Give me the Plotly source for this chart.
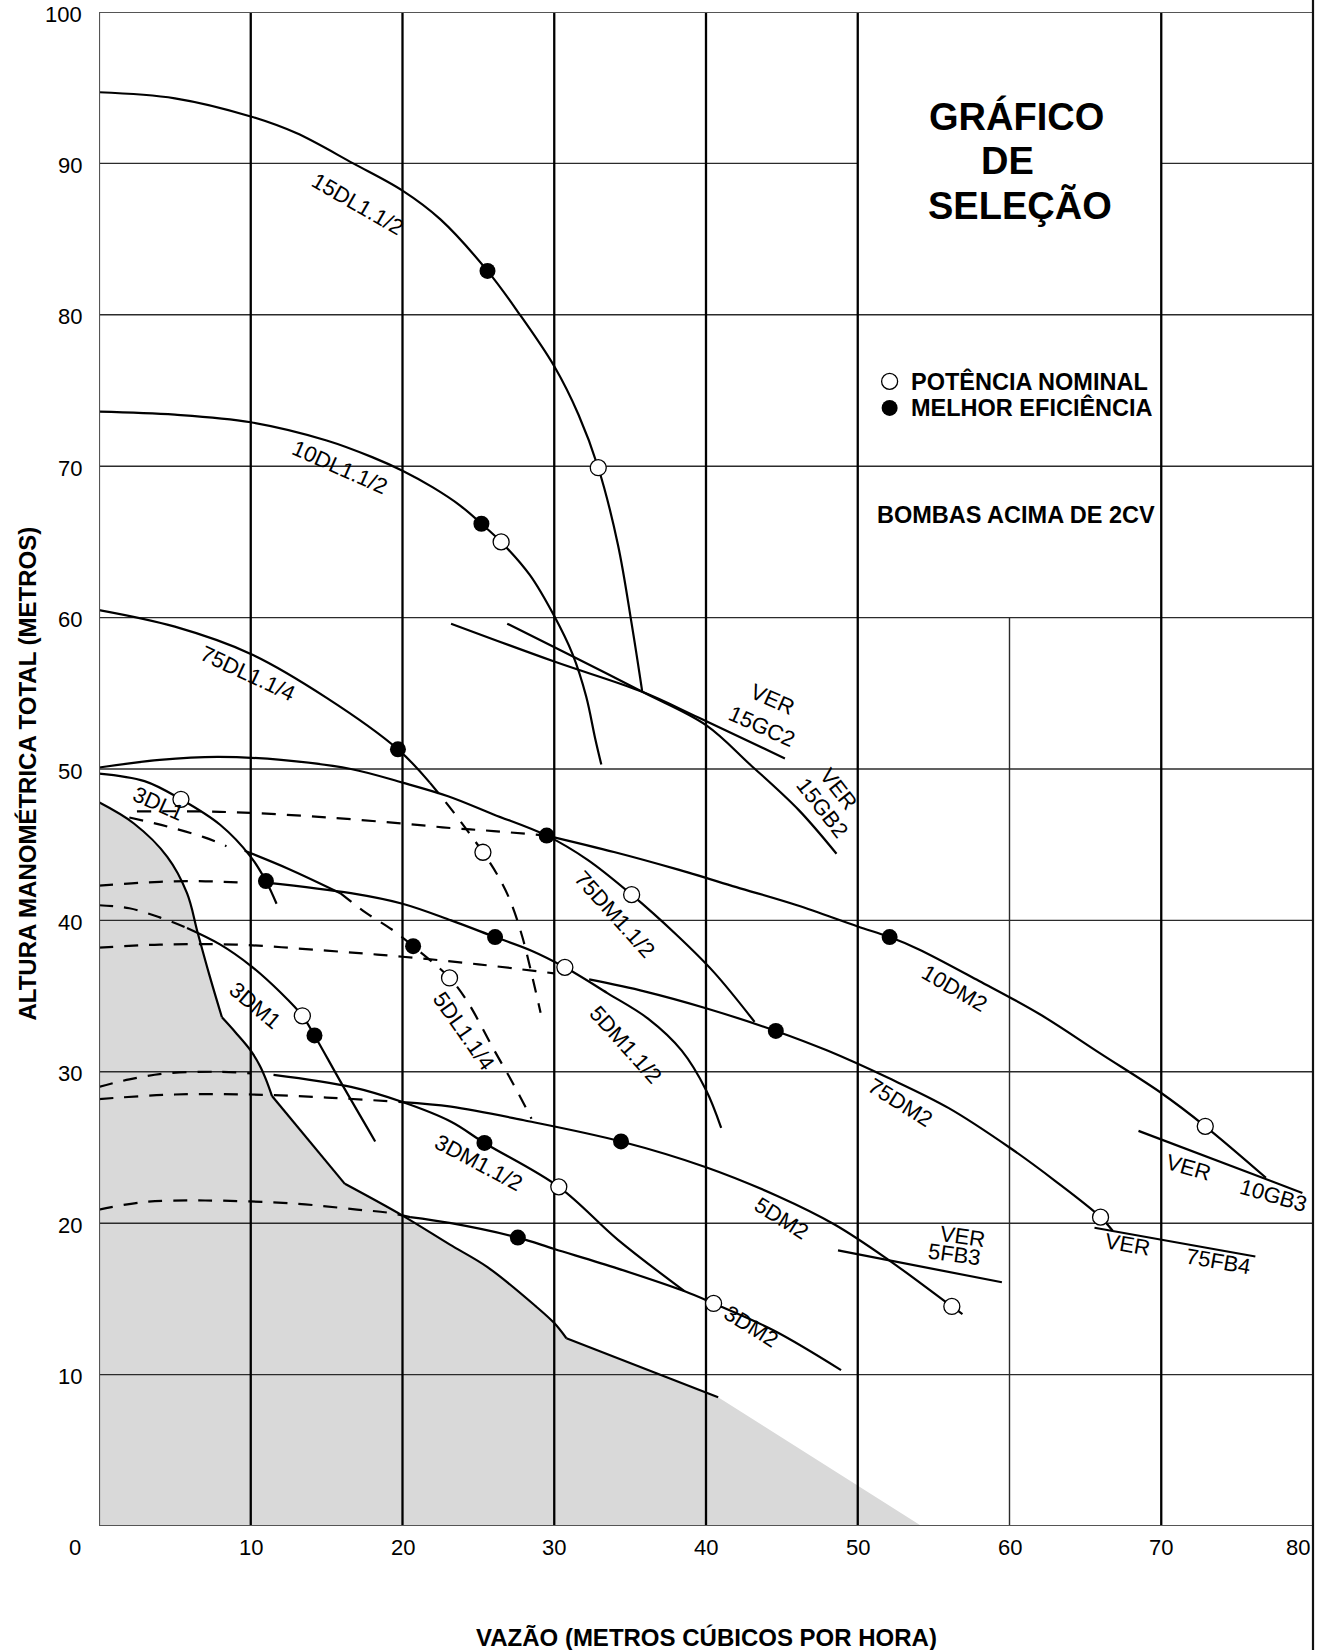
import plotly.graph_objects as go

# ------------------------------------------------------------------
# Values (vazão em m³/h, altura em metros)
# ------------------------------------------------------------------
X_TICKS = [0, 10, 20, 30, 40, 50, 60, 70, 80]
Y_TICKS = [10, 20, 30, 40, 50, 60, 70, 80, 90, 100]

# Região sombreada (fora da faixa de seleção)
LIMIT_X = [0, 2.3, 4.5, 5.8, 6.5, 7.3, 8.1, 9.0, 10.0, 10.6, 11.0, 11.4,
           16.2, 20.0, 23.1, 25.6, 28.8, 30.0, 30.8, 40.8]
LIMIT_Y = [47.8, 46.4, 44.2, 41.8, 39.2, 36.3, 33.6, 32.6, 31.4, 30.4, 29.5, 28.4,
           22.6, 20.5, 18.6, 17.1, 14.5, 13.4, 12.4, 8.5]
SHADE_END_X = 54.2

# 15DL1.1/2
DL15_X = [0, 5, 10, 13, 16.75, 20, 22.5, 25.6, 27.6, 30, 31.6, 32.9, 34.2, 35.1, 35.8]
DL15_Y = [94.7, 94.3, 93.1, 92.0, 90.0, 88.2, 86.3, 82.9, 80.2, 76.6, 73.4, 69.9, 64.8, 59.6, 55.1]

# 10DL1.1/2
DL10_X = [0, 5, 10, 15, 18, 20, 22, 23.8, 25.2, 26.5, 28.4, 30, 31.2, 32.1, 32.7, 33.1]
DL10_Y = [73.6, 73.4, 72.9, 71.7, 70.6, 69.7, 68.6, 67.4, 66.2, 65.0, 62.8, 60.1, 57.6, 54.8, 52.0, 50.3]

# 75DL1.1/4
DL75_X = [0, 5, 10, 15, 19.7, 21.8]
DL75_Y = [60.5, 59.4, 57.6, 54.7, 51.3, 49.1]
DL75_EXT_X = [21.8, 23.4, 25.3, 26.2, 27.1, 27.9, 28.5, 29.1]
DL75_EXT_Y = [49.1, 47.1, 44.5, 43.1, 41.3, 38.9, 36.5, 33.9]

# 3DL1
DL3_X = [0, 3, 5.4, 8, 10, 11, 11.7]
DL3_Y = [49.7, 49.2, 48.0, 46.3, 44.2, 42.6, 41.1]

# 75DM1.1/2
DM75A_X = [0, 4, 7.8, 12, 16.6, 20, 23, 26, 29.5, 32.2, 35.1, 38, 40.5, 43.2]
DM75A_Y = [50.1, 50.6, 50.8, 50.6, 50.0, 49.1, 48.2, 47.0, 45.6, 44.0, 41.7, 39.1, 36.6, 33.3]

# 10DM2
DM10_EXT_X = [2.5, 6.5, 10, 15, 20, 23.2, 26, 29.5]
DM10_EXT_Y = [47.2, 47.2, 47.1, 46.8, 46.4, 46.1, 45.9, 45.6]
DM10_X = [29.5, 34, 38, 42, 46, 50, 52.1, 54, 58, 62, 66, 70, 72.9, 76.9]
DM10_Y = [45.6, 44.5, 43.4, 42.2, 41.0, 39.6, 38.9, 38.1, 36.0, 33.8, 31.2, 28.6, 26.4, 23.0]

# 5DL1.1/4
DL5_EXT1_X = [2, 4.5, 6.9, 8.4]
DL5_EXT1_Y = [46.8, 46.2, 45.5, 44.9]
DL5_X = [9.6, 12.5, 15.9]
DL5_Y = [44.6, 43.4, 41.8]
DL5_EXT2_X = [15.9, 17.6, 19.3, 20.7, 23.1, 24.3, 26.0, 27.3, 28.5]
DL5_EXT2_Y = [41.8, 40.5, 39.4, 38.3, 36.2, 34.6, 31.5, 29.2, 26.9]

# 5DM1.1/2
DM5A_EXT_X = [0, 3, 6, 9.5]
DM5A_EXT_Y = [42.3, 42.5, 42.6, 42.5]
DM5A_X = [11, 16.6, 20, 23.2, 26.1, 28.5, 30.7, 33.5, 36.2, 38.4, 40.0, 41.0]
DM5A_Y = [42.5, 41.8, 41.1, 40.0, 38.9, 38.0, 36.9, 35.2, 33.5, 31.4, 28.8, 26.3]

# 3DM1
DM3A_EXT_X = [0, 2, 4, 5.8]
DM3A_EXT_Y = [41.0, 40.8, 40.2, 39.5]
DM3A_X = [5.8, 8, 10, 12, 13.4, 14.2, 16, 18.2]
DM3A_Y = [39.5, 38.4, 37.0, 35.2, 33.7, 32.4, 29.2, 25.4]

# 75DM2
DM75B_EXT_X = [0, 4, 9, 15, 20, 25, 30]
DM75B_EXT_Y = [38.2, 38.4, 38.4, 38.0, 37.6, 37.1, 36.5]
DM75B_X = [32.3, 36, 40, 44.6, 48, 52, 56, 60, 63, 66, 66.8]
DM75B_Y = [36.1, 35.3, 34.2, 32.7, 31.4, 29.6, 27.6, 25.0, 22.8, 20.4, 19.5]

# 3DM1.1/2
DM3B_EXT_X = [0, 2, 4.5, 8, 10]
DM3B_EXT_Y = [29.0, 29.5, 29.9, 30.0, 29.9]
DM3B_X = [11.5, 16.6, 20, 23.2, 25.4, 30.3, 34.2, 38.6]
DM3B_Y = [29.8, 29.0, 28.0, 26.7, 25.3, 22.4, 18.9, 15.5]

# 5DM2
DM5B_EXT_X = [0, 5, 10, 15, 20]
DM5B_EXT_Y = [28.2, 28.5, 28.5, 28.3, 28.0]
DM5B_X = [20, 23.2, 28, 34.4, 40, 44.7, 48.5, 52, 56.2, 56.9]
DM5B_Y = [28.0, 27.7, 26.8, 25.4, 23.7, 21.8, 19.9, 17.6, 14.5, 14.0]

# 3DM2
DM3C_EXT_X = [0, 3, 7, 12.8, 17, 19, 20.5]
DM3C_EXT_Y = [20.9, 21.4, 21.5, 21.3, 20.9, 20.7, 20.4]
DM3C_X = [20.5, 23.2, 27.6, 30, 34.2, 38.6, 40.5, 44.5, 48.9]
DM3C_Y = [20.4, 20.0, 19.05, 18.3, 17.0, 15.5, 14.7, 12.9, 10.3]

# Bombas verticais
VER15GC2_X = [23.2, 30, 35.8, 39.5, 45.2]
VER15GC2_Y = [59.6, 57.1, 55.1, 53.4, 50.7]
VER15GB2_X = [26.9, 31.1, 35.8, 40, 42.9, 46.1, 48.6]
VER15GB2_Y = [59.6, 57.5, 55.1, 52.9, 50.3, 47.3, 44.4]
VER10GB3_X = [68.5, 79.3]
VER10GB3_Y = [26.1, 22.0]
VER75FB4_X = [65.6, 76.2]
VER75FB4_Y = [19.7, 17.8]
VER5FB3_X = [48.7, 59.5]
VER5FB3_Y = [18.2, 16.1]

# Pontos de potência nominal (○) e de melhor eficiência (●)
NOMINAL_X = [32.9, 26.5, 25.3, 5.4, 35.1, 23.1, 30.7, 13.4, 72.9, 66.0, 30.3, 40.5, 56.2]
NOMINAL_Y = [69.9, 65.0, 44.5, 48.0, 41.7, 36.2, 36.9, 33.7, 26.4, 20.4, 22.4, 14.7, 14.5]
BEST_X = [25.6, 25.2, 19.7, 29.5, 11.0, 20.7, 26.1, 14.2, 52.1, 44.6, 25.4, 34.4, 27.6]
BEST_Y = [82.9, 66.2, 51.3, 45.6, 42.6, 38.3, 38.9, 32.4, 38.9, 32.7, 25.3, 25.4, 19.05]

# ------------------------------------------------------------------
FONT = "Liberation Sans, Arial, Helvetica, sans-serif"
SOLID_W = 2.2
DASH = "14px,11px"
LABEL_SIZE = 22

fig = go.Figure()

# Área sombreada
fig.add_trace(go.Scatter(
    x=LIMIT_X + [SHADE_END_X, 0],
    y=LIMIT_Y + [0, 0],
    mode="lines", fill="toself", fillcolor="#d9d9d9",
    line=dict(width=0, color="rgba(0,0,0,0)"), hoverinfo="skip"))

# Grade
def grid_trace(segments, width, color):
    xs, ys = [], []
    for (x0, y0, x1, y1) in segments:
        xs += [x0, x1, None]
        ys += [y0, y1, None]
    fig.add_trace(go.Scatter(x=xs, y=ys, mode="lines",
                             line=dict(width=width, color=color),
                             hoverinfo="skip"))

h_segments = []
for yv in Y_TICKS[:-1]:
    if yv == 90:
        h_segments += [(0, yv, 50, yv), (70, yv, 80, yv)]
    else:
        h_segments.append((0, yv, 80, yv))
grid_trace(h_segments, 1.4, "#2b2b2b")

v_thick = [(xv, 0, xv, 100) for xv in X_TICKS[1:-1] if xv != 60]
grid_trace(v_thick, 2.3, "#000000")
grid_trace([(60, 0, 60, 60)], 1.4, "#2b2b2b")

# Curvas
def curve(xs, ys, dashed=False, shape="spline"):
    fig.add_trace(go.Scatter(
        x=xs, y=ys, mode="lines",
        line=dict(color="black", width=SOLID_W, shape=shape,
                  smoothing=1.0 if shape == "spline" else None,
                  dash=DASH if dashed else "solid"),
        hoverinfo="skip"))

# Limite da região sombreada: trechos curvos e retos
curve(LIMIT_X[0:7], LIMIT_Y[0:7])
curve(LIMIT_X[6:12], LIMIT_Y[6:12])
curve(LIMIT_X[11:13], LIMIT_Y[11:13], shape="linear")
curve(LIMIT_X[12:19], LIMIT_Y[12:19])
curve(LIMIT_X[18:20], LIMIT_Y[18:20], shape="linear")

curve(DL15_X, DL15_Y)
curve(DL10_X, DL10_Y)
curve(DL75_X, DL75_Y)
curve(DL75_EXT_X, DL75_EXT_Y, dashed=True)
curve(DL3_X, DL3_Y)
curve(DM75A_X, DM75A_Y)
curve(DM10_EXT_X, DM10_EXT_Y, dashed=True)
curve(DM10_X, DM10_Y)
curve(DL5_EXT1_X, DL5_EXT1_Y, dashed=True)
curve(DL5_X, DL5_Y)
curve(DL5_EXT2_X, DL5_EXT2_Y, dashed=True)
curve(DM5A_EXT_X, DM5A_EXT_Y, dashed=True)
curve(DM5A_X, DM5A_Y)
curve(DM3A_EXT_X, DM3A_EXT_Y, dashed=True)
curve(DM3A_X, DM3A_Y)
curve(DM75B_EXT_X, DM75B_EXT_Y, dashed=True)
curve(DM75B_X, DM75B_Y)
curve(DM3B_EXT_X, DM3B_EXT_Y, dashed=True)
curve(DM3B_X, DM3B_Y)
curve(DM5B_EXT_X, DM5B_EXT_Y, dashed=True)
curve(DM5B_X, DM5B_Y)
curve(DM3C_EXT_X, DM3C_EXT_Y, dashed=True)
curve(DM3C_X, DM3C_Y)
curve(VER15GC2_X, VER15GC2_Y)
curve(VER15GB2_X, VER15GB2_Y)
curve(VER10GB3_X, VER10GB3_Y, shape="linear")
curve(VER75FB4_X, VER75FB4_Y, shape="linear")
curve(VER5FB3_X, VER5FB3_Y, shape="linear")

# Marcadores
fig.add_trace(go.Scatter(
    x=NOMINAL_X, y=NOMINAL_Y, mode="markers",
    marker=dict(symbol="circle", size=16, color="white",
                line=dict(color="black", width=1.3)), hoverinfo="skip"))
fig.add_trace(go.Scatter(
    x=BEST_X, y=BEST_Y, mode="markers",
    marker=dict(symbol="circle", size=16, color="black",
                line=dict(color="black", width=0)), hoverinfo="skip"))

# Legenda
fig.add_trace(go.Scatter(
    x=[52.1], y=[75.6], mode="markers",
    marker=dict(symbol="circle", size=16, color="white",
                line=dict(color="black", width=1.3)), hoverinfo="skip"))
fig.add_trace(go.Scatter(
    x=[52.1], y=[73.85], mode="markers",
    marker=dict(symbol="circle", size=16, color="black"), hoverinfo="skip"))

annotations = []

def text(x, y, s, size=LABEL_SIZE, angle=0, bold=False, **kw):
    d = dict(x=x, y=y, text=f"<b>{s}</b>" if bold else s, showarrow=False,
             textangle=angle, font=dict(family=FONT, size=size, color="black"))
    d.update(kw)
    annotations.append(d)

# Nomes das curvas
text(17.1, 87.3, "15DL1.1/2", angle=30)
text(15.9, 69.9, "10DL1.1/2", angle=24)
text(9.8, 56.3, "75DL1.1/4", angle=25)
text(3.9, 47.7, "3DL1", angle=24)
text(34.0, 40.4, "75DM1.1/2", angle=48)
text(24.0, 32.7, "5DL1.1/4", angle=55)
text(34.7, 31.8, "5DM1.1/2", angle=48)
text(10.3, 34.4, "3DM1", angle=40)
text(56.4, 35.5, "10DM2", angle=30)
text(52.8, 28.0, "75DM2", angle=32)
text(25.0, 24.0, "3DM1.1/2", angle=28)
text(45.0, 20.3, "5DM2", angle=32)
text(43.0, 13.2, "3DM2", angle=32)
text(44.4, 54.6, "VER", angle=24)
text(43.7, 52.8, "15GC2", angle=24)
text(48.7, 48.7, "VER", angle=52)
text(47.7, 47.4, "15GB2", angle=52)
text(71.8, 23.7, "VER", angle=16)
text(77.4, 21.8, "10GB3", angle=16)
text(67.8, 18.6, "VER", angle=10)
text(73.8, 17.5, "75FB4", angle=10)
text(56.9, 19.1, "VER", angle=8)
text(56.4, 17.9, "5FB3", angle=8)

# Título e legenda
text(60.45, 93.1, "GRÁFICO", size=38, bold=True)
text(59.9, 90.15, "DE", size=38, bold=True)
text(60.7, 87.25, "SELEÇÃO", size=38, bold=True)
text(53.35, 75.6, "POTÊNCIA NOMINAL", size=23.5, bold=True, xanchor="left")
text(53.35, 73.85, "MELHOR EFICIÊNCIA", size=23.5, bold=True, xanchor="left")
text(60.45, 66.8, "BOMBAS ACIMA DE 2CV", size=23.5, bold=True)

# Rótulos dos eixos
TICK_FONT = dict(family=FONT, size=22, color="black")
for xv in X_TICKS:
    if xv == 0:
        anchor, shift = "right", -16
    elif xv == 80:
        anchor, shift = "right", -1
    else:
        anchor, shift = "center", 0
    annotations.append(dict(x=xv, y=0, xref="x", yref="paper", text=str(xv),
                            showarrow=False, xanchor=anchor, yanchor="middle",
                            xshift=shift, yshift=-21, font=TICK_FONT))
for yv in Y_TICKS:
    annotations.append(dict(x=0, y=yv, xref="paper", yref="y", text=str(yv),
                            showarrow=False, xanchor="right", yanchor="middle",
                            xshift=-15, yshift=-2, font=TICK_FONT))

annotations.append(dict(x=40, y=0, xref="x", yref="paper",
                        text="<b>VAZÃO (METROS CÚBICOS POR HORA)</b>",
                        showarrow=False, xanchor="center", yanchor="middle",
                        yshift=-111, font=dict(family=FONT, size=24, color="black")))
annotations.append(dict(x=0, y=49.7, xref="paper", yref="y",
                        text="<b>ALTURA MANOMÉTRICA TOTAL (METROS)</b>",
                        showarrow=False, textangle=-90, xanchor="center", yanchor="middle",
                        xshift=-71, font=dict(family=FONT, size=24, color="black")))

# Molduras
shapes = [
    dict(type="line", xref="x", yref="y", x0=0, y0=0, x1=0, y1=100,
         line=dict(color="#555555", width=2.2), layer="above"),
    dict(type="line", xref="x", yref="y", x0=0, y0=0, x1=80, y1=0,
         line=dict(color="#555555", width=2.2), layer="above"),
    dict(type="line", xref="x", yref="y", x0=0, y0=100, x1=80, y1=100,
         line=dict(color="#555555", width=2.2), layer="above"),
    dict(type="line", xref="paper", yref="paper", x0=1, x1=1,
         y0=-124 / 1514, y1=1 + 12 / 1514,
         line=dict(color="#111111", width=2.2), layer="above"),
]

fig.update_layout(
    width=1328, height=1650,
    margin=dict(l=99, r=15, t=12, b=124),
    paper_bgcolor="white", plot_bgcolor="white",
    showlegend=False,
    xaxis=dict(range=[0, 80], showgrid=False, zeroline=False, showticklabels=False,
               showline=False, ticks="", fixedrange=True),
    yaxis=dict(range=[0, 100], showgrid=False, zeroline=False, showticklabels=False,
               showline=False, ticks="", fixedrange=True),
    annotations=annotations,
    shapes=shapes,
)

fig.write_html("out.html")
